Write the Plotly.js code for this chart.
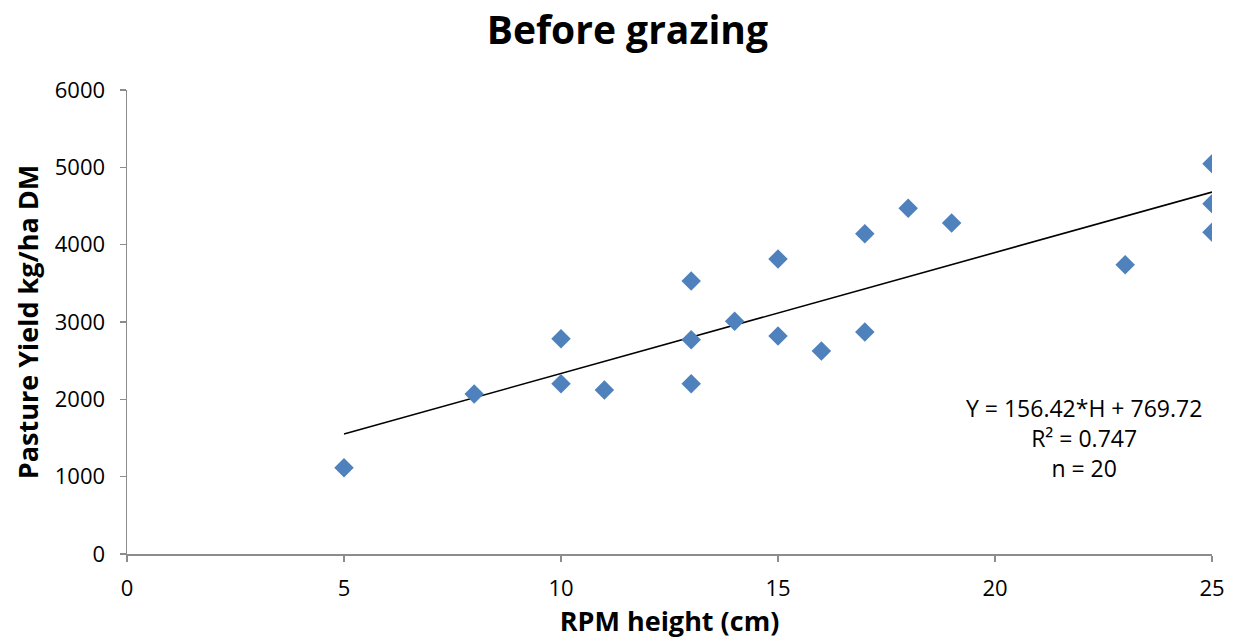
<!DOCTYPE html>
<html>
<head>
<meta charset="utf-8">
<script src="https://cdn.plot.ly/plotly-3.0.1.min.js"></script>
<style>html,body{margin:0;padding:0;background:#fff;}#chart{width:1235px;height:642px;}</style>
</head>
<body>
<div id="chart"></div>
<script>
const heights = [5, 8, 10, 10, 11, 13, 13, 13, 14, 15, 15, 16, 17, 17, 18, 19, 23, 25, 25, 25];
const yields = [1115, 2070, 2785, 2200, 2120, 3530, 2770, 2200, 3010, 3815, 2820, 2625, 4140, 2870, 4470, 4280, 3740, 5045, 4530, 4160];
const trendX = [5, 25];
const trendY = [1552, 4680];
const xTicks = [0, 5, 10, 15, 20, 25];
const yTicks = [0, 1000, 2000, 3000, 4000, 5000, 6000];
const titleText = "Before grazing";
const xTitle = "RPM height (cm)";
const yTitle = "Pasture Yield kg/ha DM";
const statsText = "Y = 156.42*H + 769.72<br>R² = 0.747<br>n = 20";

const font = "Open Sans, Noto Sans, sans-serif";

const data = [
  {x: trendX, y: trendY, type: "scatter", mode: "lines", line: {color: "#000", width: 1.6}, hoverinfo: "skip"},
  {x: heights, y: yields, type: "scatter", mode: "markers",
   marker: {symbol: "diamond", size: 15, color: "#4F81BD", line: {width: 0}}}
];

const layout = {
  width: 1235, height: 642,
  margin: {l: 127, r: 23, t: 90, b: 88},
  paper_bgcolor: "#fff", plot_bgcolor: "#fff",
  showlegend: false,
  font: {family: font, color: "#000", size: 22},
  title: {text: "<b>" + titleText + "</b>", x: 0.508, xanchor: "center", y: 0.953, yanchor: "middle",
          font: {family: font, size: 39, color: "#000"}},
  xaxis: {
    range: [0, 25], tickvals: xTicks, ticktext: xTicks.map(String),
    showgrid: false, zeroline: false, showline: true, linecolor: "#8c8c8c", linewidth: 1.5,
    ticks: "outside", ticklen: 6, tickcolor: "#8c8c8c", tickwidth: 1.5, ticklabelstandoff: 8,
    tickfont: {family: font, size: 22}, fixedrange: true,
    title: {text: "<b>" + xTitle + "</b>", font: {family: font, size: 27}, standoff: 2}
  },
  yaxis: {
    range: [0, 6000], tickvals: yTicks, ticktext: yTicks.map(String),
    showgrid: false, zeroline: false, showline: true, linecolor: "#8c8c8c", linewidth: 1.5,
    ticks: "outside", ticklen: 6, tickcolor: "#8c8c8c", tickwidth: 1.5, ticklabelstandoff: 10,
    tickfont: {family: font, size: 22}, fixedrange: true,
    title: {text: "<b>" + yTitle + "</b>", font: {family: font, size: 27}, standoff: 8}
  },
  annotations: [{
    text: statsText, xref: "paper", yref: "paper", x: 0.882, y: 0.25, xanchor: "center", yanchor: "middle",
    showarrow: false, align: "center", font: {family: font, size: 23, color: "#000"}
  }]
};

Plotly.newPlot("chart", data, layout, {displayModeBar: false, staticPlot: true});
</script>
</body>
</html>
